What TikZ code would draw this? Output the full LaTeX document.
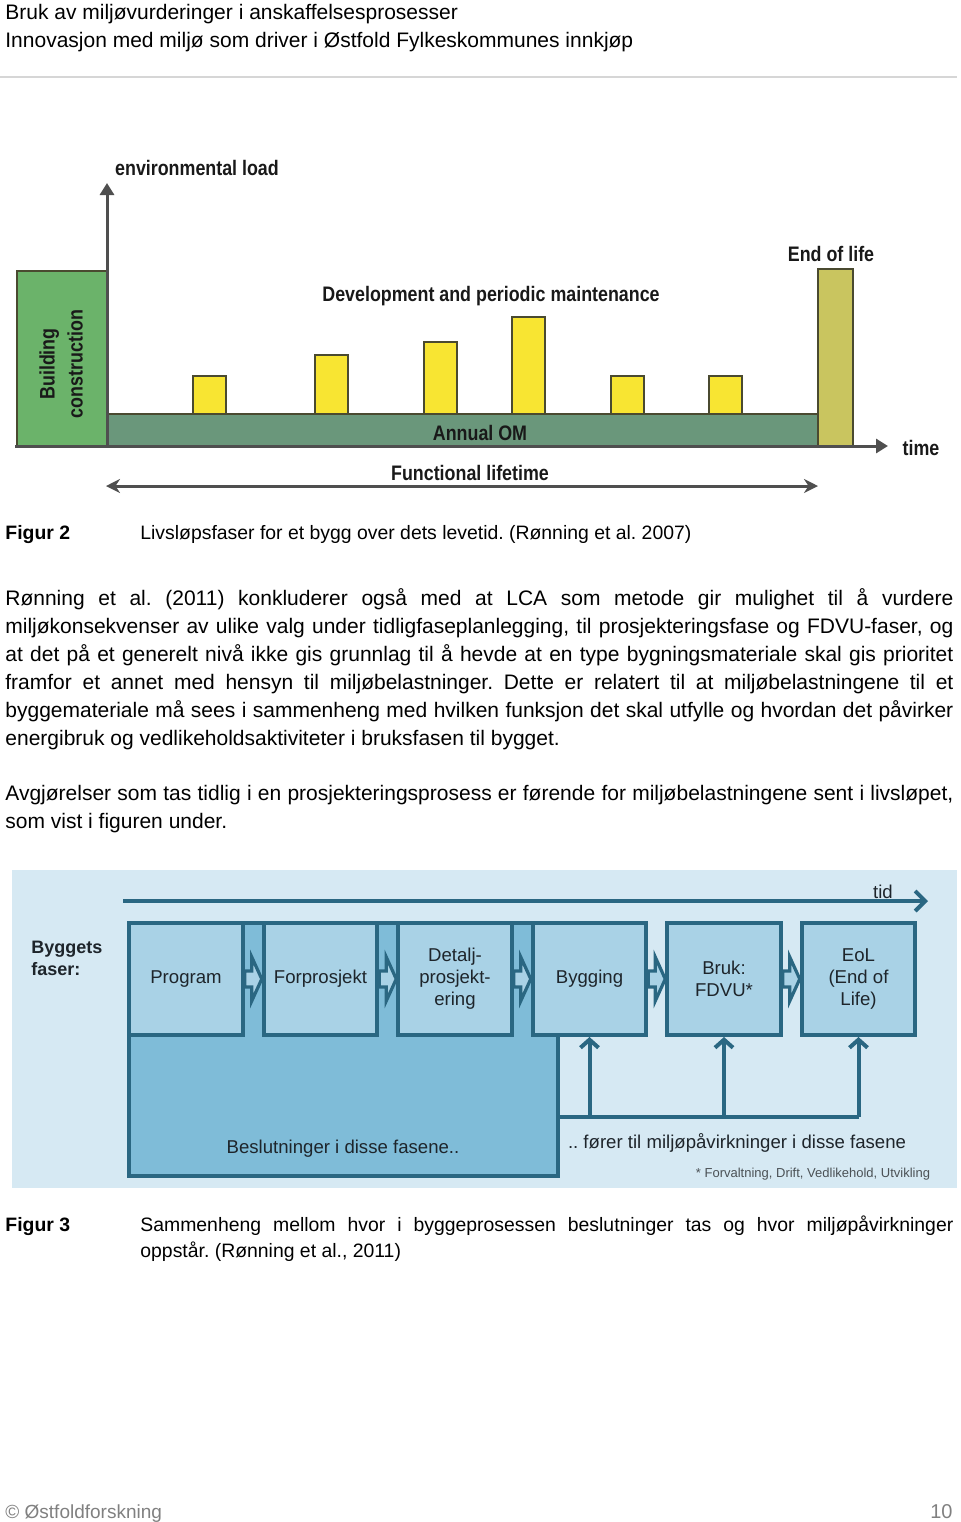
\documentclass[tikz,border=0pt]{standalone}
\usepackage{fontspec}
\setmainfont{Liberation Sans}
\newfontfamily\narrowfont[FakeStretch=0.85]{Liberation Sans}
\usetikzlibrary{arrows.meta,positioning}
\tikzset{>=stealth}
\frenchspacing
\definecolor{axisGray}{HTML}{4F4F4F}
\definecolor{buildGreen}{HTML}{6BB36A}
\definecolor{omGreen}{HTML}{6A977B}
\definecolor{barYellow}{HTML}{F8E532}
\definecolor{eolOlive}{HTML}{C9C55F}
\definecolor{barEdge}{HTML}{4A4A30}
\definecolor{skyBg}{HTML}{D6E9F3}
\definecolor{midBlue}{HTML}{7FBCD8}
\definecolor{boxBlue}{HTML}{A9D2E6}
\definecolor{penTeal}{HTML}{2A6782}
\definecolor{inkDark}{HTML}{1E252B}
\definecolor{footGray}{HTML}{808080}
\definecolor{ruleGray}{HTML}{D6D6D6}
\tikzset{
  bodytext/.style={anchor=base west,inner sep=0pt,font=\fontsize{10.5}{14}\selectfont},
  captext/.style={bodytext,font=\fontsize{9.7}{13}\selectfont},
  tagtext/.style={bodytext,font=\fontsize{9.7}{13}\selectfont\bfseries},
  loadbar/.style={draw=barEdge,line width=0.6pt},
  loadaxis/.style={draw=axisGray,line width=1.5pt},
  chartlabel/.style={inner sep=0pt,text=black!90,font=\narrowfont\fontsize{10.5}{14}\selectfont\bfseries},
  phase/.style={draw=penTeal,fill=boxBlue,line width=2pt,minimum width=56.75pt,minimum height=56pt,
    inner sep=0pt,align=center,text=inkDark,font=\fontsize{9.3}{11}\selectfont},
  decisionzone/.style={draw=penTeal,fill=midBlue,line width=2pt,minimum width=214.5pt,minimum height=126.5pt,inner sep=0pt},
  gaparrow/.style={draw=penTeal,fill=boxBlue,line width=1.6pt,line join=miter},
  fbline/.style={draw=penTeal,line width=2pt},
  phasetext/.style={inner sep=0pt,text=inkDark,font=\fontsize{9.3}{11}\selectfont},
  notetext/.style={inner sep=0pt,text=inkDark!80,font=\fontsize{6.5}{8}\selectfont}
}
\begin{document}
\begin{tikzpicture}[x=0.5pt,y=-0.5pt]
\useasboundingbox (0,0) rectangle (960,1522);
% page header
\node[bodytext] (head1) at (5,19) {Bruk av miljøvurderinger i anskaffelsesprosesser};
\node[bodytext] (head2) at (5,47) {Innovasjon med miljø som driver i Østfold Fylkeskommunes innkjøp};
\draw[ruleGray,line width=0.6pt] (0,77) -- (957,77);

% figure 2: load over time
\draw[loadbar,fill=buildGreen] (17,271) rectangle (107,446);
\draw[loadbar,fill=omGreen] (107,414) rectangle (818,446);
\foreach \x/\top in {193/376,315/355,424/342,512/317,611/376,709/376}
  \draw[loadbar,fill=barYellow] (\x,\top) rectangle (\x+33,414);
\draw[loadbar,fill=eolOlive] (818,269) rectangle (853,446);
\draw[loadaxis,-{Triangle[length=6pt,width=7pt]}] (15,446) -- (888,446);
\draw[loadaxis,-{Triangle[length=6pt,width=7pt]}] (107,446) -- (107,183);
\draw[loadaxis,{Stealth[length=7pt,width=7pt]}-{Stealth[length=7pt,width=7pt]}] (106,486) -- (818,486);
\node[chartlabel] (envload) at (197,168) {environmental load};
\node[chartlabel,rotate=90,align=center] (build) at (61,364) {Building\\construction};
\node[chartlabel] (devmaint) at (491,296) {Development and periodic maintenance};
\node[chartlabel] (endlife) at (831,254) {End of life};
\node[chartlabel] (annual) at (480,433) {Annual OM};
\node[chartlabel] (funclife) at (470,473) {Functional lifetime};
\node[chartlabel] (time) at (921,448) {time};

% caption and text
\node[tagtext] (fig2tag) at (5,539) {Figur 2};
\node[captext] (fig2cap) at (140,539) {Livsløpsfaser for et bygg over dets levetid. (Rønning et al. 2007)};
\node[bodytext] (p1l1) at (5,605) {\makebox[474pt][s]{Rønning et al. (2011) konkluderer også med at LCA som metode gir mulighet til å vurdere}};
\node[bodytext] (p1l2) at (5,633) {\makebox[474pt][s]{miljøkonsekvenser av ulike valg under tidligfaseplanlegging, til prosjekteringsfase og FDVU-faser, og}};
\node[bodytext] (p1l3) at (5,661) {\makebox[474pt][s]{at det på et generelt nivå ikke gis grunnlag til å hevde at en type bygningsmateriale skal gis prioritet}};
\node[bodytext] (p1l4) at (5,689) {\makebox[474pt][s]{framfor et annet med hensyn til miljøbelastninger. Dette er relatert til at miljøbelastningene til et}};
\node[bodytext] (p1l5) at (5,717) {\makebox[474pt][s]{byggemateriale må sees i sammenheng med hvilken funksjon det skal utfylle og hvordan det påvirker}};
\node[bodytext] (p1l6) at (5,745) {energibruk og vedlikeholdsaktiviteter i bruksfasen til bygget.};
\node[bodytext] (p2l1) at (5,800) {\makebox[474pt][s]{Avgjørelser som tas tidlig i en prosjekteringsprosess er førende for miljøbelastningene sent i livsløpet,}};
\node[bodytext] (p2l2) at (5,828) {som vist i figuren under.};

% figure 3: phases of the building
\fill[skyBg] (12,870) rectangle (957,1188);
\coordinate (tstart) at (123,901);
\coordinate (tend) at (928,901);
\draw[fbline,-{Straight Barb[length=5pt,width=10pt]}] (tstart) -- (tend);
\node[phasetext] (tid) at (883,892) {tid};
\node[decisionzone] (dec) at (343.5,1049.5) {};
\node[phase] (prog) at (186,979) {Program};
\node[phase,right=8.5pt of prog] (forp) {Forprosjekt};
\node[phase,right=8.5pt of forp] (det) {Detalj-\\prosjekt-\\ering};
\node[phase,right=8.5pt of det] (byg) {Bygging};
\node[phase,right=8.5pt of byg] (bruk) {Bruk:\\FDVU*};
\node[phase,right=8.5pt of bruk] (eol) {EoL\\(End of\\Life)};
\foreach \a/\b in {prog/forp,forp/det,det/byg,byg/bruk,bruk/eol}
  \draw[gaparrow] ([yshift=4pt]\a.east) -- ++(3.5pt,0pt) -- ++(0pt,7pt) -- (\b.west)
    -- ++(-5pt,-11pt) -- ++(0pt,7pt) -- ++(-3.5pt,0pt) -- cycle;
\coordinate (fbrow) at (0,1117);
\draw[fbline] (dec.east |- fbrow) -- (eol.south |- fbrow);
\foreach \n in {byg,bruk,eol}
  \draw[fbline,-{Straight Barb[length=4pt,width=9pt]}] (\n.south |- fbrow) -- (\n.south);
\node[phasetext,anchor=west,align=left,font=\fontsize{9}{11}\selectfont\bfseries] (faser) at (31,958) {Byggets\\faser:};
\node[phasetext] (dectext) at (343,1149) {Beslutninger i disse fasene..};
\node[phasetext] (effect) at (737,1143) {.. fører til miljøpåvirkninger i disse fasene};
\node[notetext] (fdvu) at (813,1174) {* Forvaltning, Drift, Vedlikehold, Utvikling};

% caption and footer
\node[tagtext] (fig3tag) at (5,1231) {Figur 3};
\node[captext] (fig3l1) at (140,1231) {\makebox[406.5pt][s]{Sammenheng mellom hvor i byggeprosessen beslutninger tas og hvor miljøpåvirkninger}};
\node[captext] (fig3l2) at (140,1257) {oppstår. (Rønning et al., 2011)};
\node[bodytext,text=footGray,font=\fontsize{9.5}{12}\selectfont] (foot) at (5,1518) {© Østfoldforskning};
\node[bodytext,anchor=base east,text=footGray,font=\fontsize{10}{12}\selectfont] (pageno) at (953,1518) {10};
\end{tikzpicture}
\end{document}
